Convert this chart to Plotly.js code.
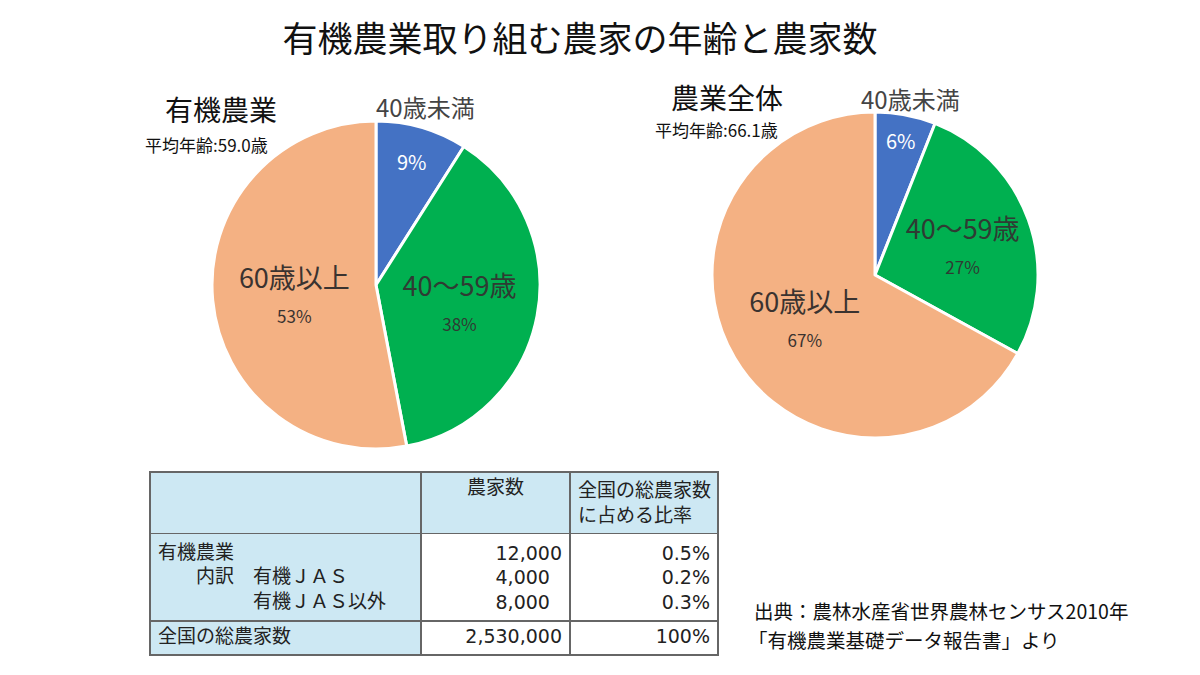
<!DOCTYPE html>
<html>
<head>
<meta charset="utf-8">
<script src="https://cdn.plot.ly/plotly-3.0.1.min.js"></script>
<style>
  html, body { margin: 0; padding: 0; background: #fff; }
  #chart { width: 1200px; height: 675px; }
</style>
</head>
<body>
<div id="chart"></div>
<script>
// age groups and shares (%)
const ageGroups = ['40歳未満', '40～59歳', '60歳以上'];
const organicShare = [9, 38, 53];
const allFarmShare = [6, 27, 67];
const organicAvgAge = '59.0';
const allFarmAvgAge = '66.1';

// table
const tableHeader = ['', '農家数', '全国の総農家数<br>に占める比率'];
const rowNames = ['有機農業<br>　　内訳　有機ＪＡＳ<br>　　　　　有機ＪＡＳ以外', '全国の総農家数'];
const rowFarms = ['12,000<br>4,000<br>8,000', '2,530,000'];
const rowRatio = ['0.5%<br>0.2%<br>0.3%', '100%'];

const sliceColors = ['#4472C4', '#00B050', '#F4B183'];
const jp = '"Noto Sans CJK JP", "Noto Sans", sans-serif';
const tableFont = '"Liberation Sans", "Noto Sans CJK JP", sans-serif';
const numFont = '"DejaVu Sans", "Noto Sans CJK JP", sans-serif';

function pieTrace(values, domain) {
  return {
    type: 'pie',
    labels: ageGroups,
    values: values,
    sort: false,
    direction: 'clockwise',
    rotation: 0,
    domain: domain,
    marker: {colors: sliceColors, line: {color: '#fff', width: 3}},
    textposition: 'inside',
    insidetextorientation: 'horizontal',
    texttemplate: [
      '<span style="font-size:20px">%{value}%</span>',
      '%{label}<br><span style="font-size:17px">%{value}%</span>',
      '%{label}<br><span style="font-size:17px">%{value}%</span>'
    ],
    textfont: {family: jp, size: 27, color: ['#fff', '#2f3b33', '#3a3330']},
    hoverinfo: 'label+percent'
  };
}

const pieLeft = pieTrace(organicShare, {x: [212 / 1200, 540 / 1200], y: [1 - 450 / 675, 1 - 120 / 675]});
const pieRight = pieTrace(allFarmShare, {x: [712 / 1200, 1038 / 1200], y: [1 - 438 / 675, 1 - 112 / 675]});

const table = {
  type: 'table',
  domain: {x: [150 / 1200, 718 / 1200], y: [0.02, 1 - 472 / 675]},
  columnwidth: [271, 149, 148],
  header: {
    values: tableHeader,
    align: ['left', 'center', 'left'],
    height: 60,
    fill: {color: '#CDE8F3'},
    line: {color: '#666', width: 1.5},
    font: {family: tableFont, size: 19, color: '#222'}
  },
  cells: {
    values: [rowNames, rowFarms, rowRatio],
    align: ['left', 'right', 'right'],
    height: 34,
    fill: {color: [['#CDE8F3', '#CDE8F3'], ['#fff', '#fff'], ['#fff', '#fff']]},
    line: {color: '#666', width: 1.5},
    font: {family: [tableFont, numFont, numFont], size: 19, color: '#222'}
  }
};

function note(text, x, y, size, anchor, color) {
  return {
    text: text, x: x / 1200, y: 1 - y / 675, xref: 'paper', yref: 'paper',
    xanchor: anchor || 'center', yanchor: 'middle', showarrow: false,
    font: {family: jp, size: size, color: color || '#111'}
  };
}

const layout = {
  width: 1200,
  height: 675,
  margin: {l: 0, r: 0, t: 0, b: 0},
  paper_bgcolor: '#fff',
  showlegend: false,
  title: {
    text: '有機農業取り組む農家の年齢と農家数',
    font: {family: jp, size: 35, color: '#111'},
    x: 580 / 1200, xanchor: 'center', y: 1 - 40 / 675, yanchor: 'middle'
  },
  annotations: [
    note('有機農業', 221, 109, 28),
    note('平均年齢:' + organicAvgAge + '歳', 207, 145, 17),
    note('農業全体', 727, 97, 28),
    note('平均年齢:' + allFarmAvgAge + '歳', 716, 129, 17),
    note(ageGroups[0], 425, 106, 24, 'center', '#444'),
    note(ageGroups[0], 910, 98, 24, 'center', '#444'),
    note('出典：農林水産省世界農林センサス2010年', 752, 610, 19.5, 'left'),
    note('「有機農業基礎データ報告書」より', 746, 639, 19.5, 'left')
  ]
};

Plotly.newPlot('chart', [pieLeft, pieRight, table], layout, {displayModeBar: false});
</script>
</body>
</html>
